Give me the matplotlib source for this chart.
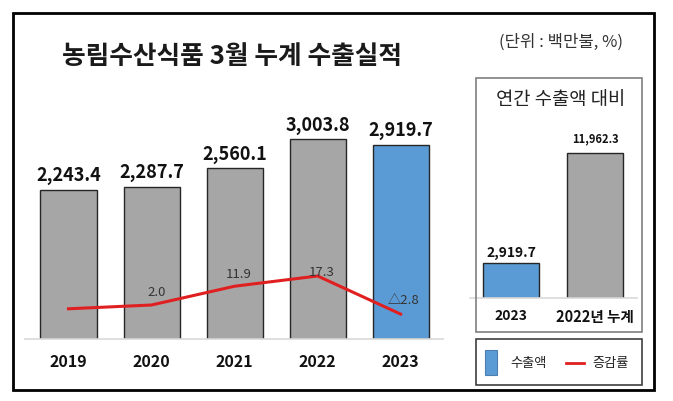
import matplotlib
matplotlib.use("Agg")
import matplotlib.pyplot as plt
from matplotlib.patches import Rectangle
from matplotlib.lines import Line2D

plt.rcParams['font.family'] = ['Noto Sans CJK KR', 'DejaVu Sans']

# ---- data ----
years = ['2019', '2020', '2021', '2022', '2023']
exports = [2243.4, 2287.7, 2560.1, 3003.8, 2919.7]
growth = [0.0, 2.0, 11.9, 17.3, -2.8]
growth_labels = ['', '2.0', '11.9', '17.3', '△2.8']
bar_colors = ['#a6a6a6', '#a6a6a6', '#a6a6a6', '#a6a6a6', '#5b9bd5']

cmp_cats = ['2023', '2022년 누계']
cmp_vals = [2919.7, 11962.3]
cmp_colors = ['#5b9bd5', '#a6a6a6']

title = '농림수산식품 3월 누계 수출실적'
unit = '(단위 : 백만불, %)'
panel_title = '연간 수출액 대비'
legend_labels = ['수출액', '증감률']

W, H = 673, 401
fig = plt.figure(figsize=(W / 100, H / 100), dpi=100)
fig.patch.set_facecolor('white')

def fx(px):
    return px / W

def fy(py):
    return 1 - py / H

def rect(x0, y0, x1, y1):
    return [fx(x0), fy(y1), fx(x1) - fx(x0), fy(y0) - fy(y1)]

# outer frame
fig.patches.append(Rectangle((fx(13), fy(390)), fx(654) - fx(13), fy(13) - fy(390),
                             transform=fig.transFigure, fill=False, edgecolor='black', lw=2))

# title and unit
fig.text(fx(62), fy(56), title, fontsize=18.5, fontweight='bold', ha='left', va='center', color='#1a1a1a')
fig.text(fx(561), fy(42), unit, fontsize=12, ha='center', va='center', color='#333333')

# ---- main chart ----
ax = fig.add_axes(rect(25, 120, 443, 339))
x = list(range(len(years)))
ax.bar(x, exports, width=0.675, color=bar_colors, edgecolor='#262626', linewidth=1.0, zorder=2)
ax.set_xlim(-0.524, 4.51)
ax.set_ylim(0, 3288)
for xi, v in zip(x, exports):
    ax.annotate(f'{v:,.1f}', (xi, v), xytext=(0, 3), textcoords='offset points',
                ha='center', va='bottom', fontsize=13, fontweight='bold', color='#111111')
ax.set_xticks(x)
ax.set_xticklabels(years, fontsize=11.5, fontweight='bold', color='#111111')
ax.tick_params(axis='x', length=0, pad=11)
ax.set_yticks([])
for s in ['top', 'right', 'left']:
    ax.spines[s].set_visible(False)
ax.spines['bottom'].set_color('#d9d9d9')
ax.spines['bottom'].set_linewidth(1.2)
ax.patch.set_alpha(0)

ax2 = ax.twinx()
ax2.plot(x, growth, color='#e02020', lw=2.2, zorder=3)
ax2.set_ylim(-15.94, 99.6)
ax2.set_yticks([])
for s in ax2.spines.values():
    s.set_visible(False)
offsets = [(0, 0), (4, 4), (3, 4), (3, -2), (2, 5)]
for xi, v, lab, off in zip(x, growth, growth_labels, offsets):
    if lab:
        ax2.annotate(lab, (xi, v), xytext=off, textcoords='offset points',
                     ha='center', va='bottom', fontsize=9.5, color='#333333')

# ---- right comparison panel ----
fig.patches.append(Rectangle((fx(476), fy(332)), fx(642) - fx(476), fy(78) - fy(332),
                             transform=fig.transFigure, fill=False, edgecolor='#7f7f7f', lw=1.2))
fig.text(fx(561), fy(100), panel_title, fontsize=13.5, ha='center', va='center', color='#222222')

ax3 = fig.add_axes(rect(470, 120, 637, 298))
cx = list(range(len(cmp_cats)))
ax3.bar(cx, cmp_vals, width=0.667, color=cmp_colors, edgecolor='#262626', linewidth=1.0)
ax3.set_xlim(-0.488, 1.5)
ax3.set_ylim(0, 14711)
for xi, v, fs, dy in zip(cx, cmp_vals, [10, 8], [2, 6]):
    ax3.annotate(f'{v:,.1f}', (xi, v), xytext=(0, dy), textcoords='offset points',
                 ha='center', va='bottom', fontsize=fs, fontweight='bold', color='#111111')
ax3.set_xticks(cx)
ax3.set_xticklabels(cmp_cats, fontweight='bold', color='#111111')
for lbl, fs in zip(ax3.get_xticklabels(), [10, 10.5]):
    lbl.set_fontsize(fs)
ax3.tick_params(axis='x', length=0, pad=8)
ax3.set_yticks([])
for s in ['top', 'right', 'left']:
    ax3.spines[s].set_visible(False)
ax3.spines['bottom'].set_color('#d9d9d9')
ax3.spines['bottom'].set_linewidth(1.2)
ax3.patch.set_alpha(0)

# ---- legend box ----
fig.patches.append(Rectangle((fx(476), fy(385)), fx(642) - fx(476), fy(339) - fy(385),
                             transform=fig.transFigure, fill=False, edgecolor='#404040', lw=1.2))
fig.patches.append(Rectangle((fx(485), fy(375)), fx(497) - fx(485), fy(350) - fy(375),
                             transform=fig.transFigure, facecolor='#5b9bd5', edgecolor='#4a7fb0', lw=0.8))
fig.text(fx(510), fy(363), legend_labels[0], fontsize=9.5, ha='left', va='center', color='#222222')
fig.lines.append(Line2D([fx(566), fx(584)], [fy(363), fy(363)], transform=fig.transFigure,
                        color='#e02020', lw=2))
fig.text(fx(592), fy(363), legend_labels[1], fontsize=9.5, ha='left', va='center', color='#222222')

fig.savefig('out.png', dpi=100)
